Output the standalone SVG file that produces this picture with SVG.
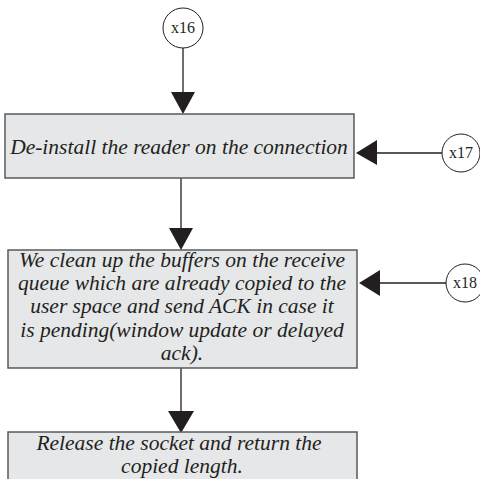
<svg xmlns="http://www.w3.org/2000/svg" width="480" height="479" viewBox="0 0 480 479">
<defs>
<style>
.box{fill:#e6e7e8;stroke:#58595b;stroke-width:1.5}
.circ{fill:#fff;stroke:#231f20;stroke-width:1}
.t{font-family:"Liberation Serif",serif;font-style:italic;font-size:21.5px;fill:#231f20;text-anchor:middle}
.c{font-family:"Liberation Serif",serif;font-size:16px;fill:#231f20;text-anchor:middle}
.ln{stroke:#231f20;stroke-width:1.3;fill:none}
.ah{fill:#231f20}
</style>
</defs>
<rect width="480" height="479" fill="#fff"/>
<g id="connectors">
<line class="ln" x1="183" y1="48" x2="183" y2="93"/>
<polygon class="ah" points="171,92 195,92 183,114"/>
<line class="ln" x1="376" y1="153" x2="442" y2="153"/>
<polygon class="ah" points="356,153 377,140 377,165"/>
<line class="ln" x1="181" y1="178" x2="181" y2="229"/>
<polygon class="ah" points="169,228 193,228 181,250"/>
<line class="ln" x1="380" y1="283" x2="446" y2="283"/>
<polygon class="ah" points="359,283 380,270 380,296"/>
<line class="ln" x1="181" y1="368" x2="181" y2="412"/>
<polygon class="ah" points="168,411 194,411 181,433"/>
</g>
<g id="x16">
<circle class="circ" cx="183" cy="28" r="20"/>
<text class="c" x="183" y="33">x16</text>
</g>
<g id="x17">
<circle class="circ" cx="461" cy="153" r="19"/>
<text class="c" x="461" y="158">x17</text>
</g>
<g id="x18">
<circle class="circ" cx="465" cy="283" r="19"/>
<text class="c" x="465" y="288">x18</text>
</g>
<g id="n1">
<rect class="box" x="5" y="114" width="349" height="64"/>
<text class="t" x="179" y="154">De-install the reader on the connection</text>
</g>
<g id="n2">
<rect class="box" x="8" y="250" width="349" height="118"/>
<text class="t" x="182" y="267">We clean up the buffers on the receive</text>
<text class="t" x="182" y="290">queue which are already copied to the</text>
<text class="t" x="182" y="313">user space and send ACK in case it</text>
<text class="t" x="182" y="337">is pending(window update or delayed</text>
<text class="t" x="182" y="360">ack).</text>
</g>
<g id="n3">
<rect class="box" x="8" y="432" width="349" height="60"/>
<text class="t" x="179" y="450">Release the socket and return the</text>
<text class="t" x="182" y="473">copied length.</text>
</g>
</svg>
